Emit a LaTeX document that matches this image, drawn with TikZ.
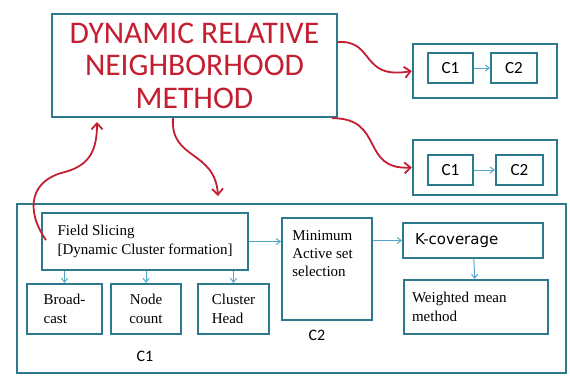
\documentclass[tikz,border=0pt]{standalone}
\usepackage{fontspec}
\setmainfont{Liberation Serif}
\newfontfamily\calfont{Carlito}
\newfontfamily\dvfont{DejaVu Sans}
\usetikzlibrary{arrows.meta}

\definecolor{boxteal}{RGB}{45,122,142}
\definecolor{linkblue}{RGB}{80,168,198}
\definecolor{curvered}{RGB}{196,30,50}

\tikzset{every picture/.style={line width=0.75pt}}
\tikzset{
  frame/.style={draw=boxteal, line width=2.4pt, inner sep=0pt},
  cbox/.style={draw=boxteal, line width=2pt, inner sep=0pt, font=\calfont\fontsize{17}{19}\selectfont},
  tbox/.style={draw=boxteal, line width=2pt, inner sep=0pt, align=left, font=\fontsize{15}{19}\selectfont},
  bluelink/.style={draw=linkblue, line width=1pt, -{Straight Barb[length=4pt,width=6pt]}},
  redcurve/.style={draw=curvered, line width=1.8pt, -{Straight Barb[length=6pt,width=11pt]}}
}

\begin{document}
\begin{tikzpicture}[x=1pt,y=1pt,yscale=-1,xscale=1]
    \useasboundingbox (0,0) rectangle (570,376);

    % main title box
    \node [frame, minimum width=285pt, minimum height=103pt, align=center, text=curvered,
           font=\calfont\fontsize{31.5}{32.5}\selectfont] (drn) at (194.5,65.5)
          {DYNAMIC RELATIVE\\NEIGHBORHOOD\\METHOD};

    % right hand boxes
    \node [frame, minimum width=144pt, minimum height=54pt] (topgrp) at (485,71) {};
    \node [cbox, minimum width=45pt, minimum height=30pt] (topca) at (450.5,68) {C1};
    \node [cbox, minimum width=46pt, minimum height=30pt] (topcb) at (514,68) {C2};
    \node [frame, minimum width=144pt, minimum height=55pt] (lowgrp) at (485,167.5) {};
    \node [cbox, minimum width=45pt, minimum height=30pt] (lowca) at (450.5,170) {C1};
    \node [cbox, minimum width=47pt, minimum height=30pt] (lowcb) at (519.5,170) {C2};

    \draw [bluelink] (topca) -- (topcb);
    \draw [bluelink] (lowca) -- (lowcb);

    % lower frame
    \node [frame, minimum width=549pt, minimum height=169pt] (lower) at (291.5,288.5) {};

    \node [tbox, minimum width=206pt, minimum height=57pt] (slice) at (145,241.5)
          {Field Slicing\\{[}Dynamic Cluster formation{]}};
    \node [tbox, minimum width=75pt, minimum height=50pt] (bcast) at (64.5,309) {Broad-\\cast};
    \node [tbox, minimum width=70pt, minimum height=50pt, align=center] (ncount) at (146,309) {Node\\count};
    \node [tbox, minimum width=71pt, minimum height=50pt] (chead) at (233.5,309) {Cluster\\Head};
    \node [tbox, minimum width=90pt, minimum height=102pt] (minset) at (327,269) {};
    \node [anchor=north west, inner sep=0pt, align=left, font=\fontsize{15}{18}\selectfont]
          (mintext) at (292,230) {Minimum\\Active set\\selection};
    \node [cbox, minimum width=140pt, minimum height=35pt, font=\dvfont\fontsize{15}{18}\selectfont,
           text width=116pt, align=left] (kcov) at (473,240.5) {K-coverage};
    \node [tbox, minimum width=144pt, minimum height=54pt, text width=128pt] (wmean) at (476,307)
          {Weighted mean\\method};

    \node [font=\calfont\fontsize{16}{18}\selectfont] (lblca) at (145,356) {C1};
    \node [font=\calfont\fontsize{16}{18}\selectfont] (lblcb) at (317,335) {C2};

    % blue links
    \draw [bluelink] (slice.south -| bcast) -- (bcast);
    \draw [bluelink] (slice.south -| ncount) -- (ncount);
    \draw [bluelink] (slice.south -| chead) -- (chead);
    \draw [bluelink] (slice.east) -- (slice.east -| minset.west);
    \draw [bluelink] (kcov.west -| minset.east) -- (kcov.west);
    \draw [bluelink] (kcov) -- (wmean);

    % red curved arrows
    \draw [redcurve] (drn.east |- 0,42) .. controls (375,40) and (360,80) .. (topgrp.west);
    \draw [redcurve] (drn.south east) ++(-6,0) coordinate (drnse)
          .. controls (385,118) and (360,170) .. (lowgrp.west);
    \draw [redcurve] (drn.south -| 173,0) coordinate (drnsb)
          .. controls (170,160) and (215,150) .. (218,196);
    \draw [redcurve] (46,240) .. controls (25,210) and (30,180) .. (65,172)
          .. controls (90,165) and (97,150) .. (97,122);

\end{tikzpicture}
\end{document}
